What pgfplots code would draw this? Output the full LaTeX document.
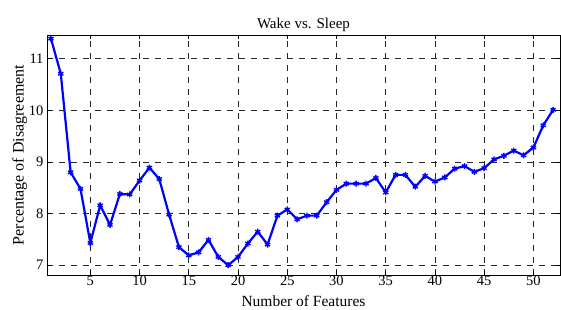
\documentclass[border=0pt]{standalone}
\usepackage{fontspec}
\setmainfont{Liberation Serif}
\usepackage{pgfplots}
\pgfplotsset{compat=1.18}
\begin{document}
\begin{tikzpicture}[x=1pt,y=1pt]
\path[use as bounding box] (0,0) rectangle (561,309);
\begin{axis}[
  at={(47pt,34pt)}, anchor=south west,
  scale only axis, width=513pt, height=240pt,
  xmin=0.6, xmax=52.7, ymin=6.81, ymax=11.46,
  xtick={5,10,...,50}, ytick={7,8,9,10,11},
  tick align=inside, ticks=both,
  major tick length=4pt,
  grid=major,
  major grid style={black!85, dash pattern=on 6pt off 6pt, line width=0.7pt},
  axis line style={black, line width=0.8pt},
  tick style={black, line width=0.6pt},
  /pgf/number format/assume math mode=true,
  ticklabel style={font=\fontsize{14.5}{15}\selectfont},
  xticklabel style={inner sep=1pt},
  title={Wake vs. Sleep},
  title style={font=\fontsize{15}{16}\selectfont, yshift=-6pt},
  xlabel={Number of Features},
  xlabel style={font=\fontsize{15.5}{16}\selectfont, inner sep=1pt,
    at={(axis description cs:0.5,0)}, anchor=south, yshift=-33pt},
  ylabel={Percentage of Disagreement},
  ylabel style={font=\fontsize{16}{17}\selectfont, yshift=-5pt},
]
\addplot[blue, line width=2.2pt, mark=asterisk, mark size=3pt, mark options={line width=1.4pt}] coordinates {
(1,11.39) (2,10.71) (3,8.80) (4,8.48) (5,7.43) (6,8.16) (7,7.78) (8,8.38) (9,8.37) (10,8.64)
(11,8.89) (12,8.67) (13,7.98) (14,7.35) (15,7.19) (16,7.25) (17,7.49) (18,7.16) (19,7.00) (20,7.16)
(21,7.42) (22,7.65) (23,7.40) (24,7.96) (25,8.08) (26,7.89) (27,7.96) (28,7.96) (29,8.22) (30,8.46)
(31,8.58) (32,8.58) (33,8.58) (34,8.69) (35,8.41) (36,8.75) (37,8.75) (38,8.52) (39,8.73) (40,8.62)
(41,8.70) (42,8.87) (43,8.92) (44,8.81) (45,8.88) (46,9.05) (47,9.12) (48,9.22) (49,9.13) (50,9.28)
(51,9.71) (52,10.01)
};
\end{axis}
\end{tikzpicture}
\end{document}
